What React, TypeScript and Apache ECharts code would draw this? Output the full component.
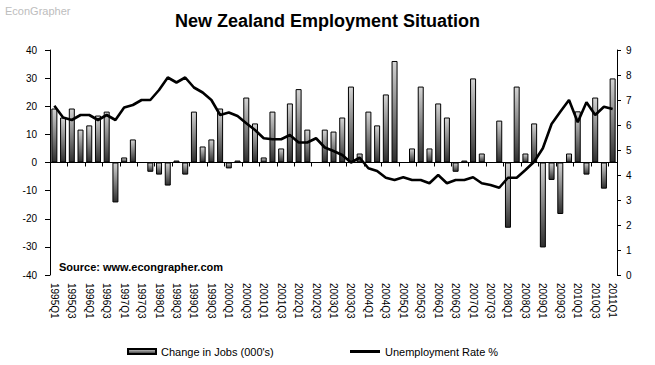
import React, { useEffect, useRef } from "react";
import * as echarts from "echarts";

const quarters = [
  "1995Q1", "1995Q2", "1995Q3", "1995Q4", "1996Q1", "1996Q2", "1996Q3", "1996Q4",
  "1997Q1", "1997Q2", "1997Q3", "1997Q4", "1998Q1", "1998Q2", "1998Q3", "1998Q4",
  "1999Q1", "1999Q2", "1999Q3", "1999Q4", "2000Q1", "2000Q2", "2000Q3", "2000Q4",
  "2001Q1", "2001Q2", "2001Q3", "2001Q4", "2002Q1", "2002Q2", "2002Q3", "2002Q4",
  "2003Q1", "2003Q2", "2003Q3", "2003Q4", "2004Q1", "2004Q2", "2004Q3", "2004Q4",
  "2005Q1", "2005Q2", "2005Q3", "2005Q4", "2006Q1", "2006Q2", "2006Q3", "2006Q4",
  "2007Q1", "2007Q2", "2007Q3", "2007Q4", "2008Q1", "2008Q2", "2008Q3", "2008Q4",
  "2009Q1", "2009Q2", "2009Q3", "2009Q4", "2010Q1", "2010Q2", "2010Q3", "2010Q4",
  "2011Q1",
];

const jobsChange = [
  19.2, 16.0, 19.2, 11.7, 13.2, 16.7, 18.1, -14.2, 1.8, 8.2, 0, -3.3, -4.3, -8.2, 0.7, -4.3,
  18.1, 5.7, 8.2, 19.2, -2.1, 0.7, 23.1, 13.9, 1.8, 18.1, 5.0, 21.0, 26.1, 11.7, 0, 11.7,
  11.0, 16.0, 27.0, 3.2, 18.1, 13.2, 24.2, 36.1, 0, 5.0, 27.0, 5.0, 21.0, 16.0, -3.3, 0.7,
  29.9, 3.2, 0, 14.9, -23.2, 27.0, 3.2, 13.9, -30.2, -6.2, -18.3, 3.2, 18.2, -4.3, 23.1, -9.3, 29.9,
];

const unemploymentRate = [
  6.77, 6.3, 6.2, 6.4, 6.4, 6.2, 6.4, 6.2, 6.7, 6.8, 7.0, 7.0, 7.4, 7.9, 7.7, 7.9,
  7.5, 7.3, 7.0, 6.4, 6.5, 6.36, 6.07, 5.8, 5.47, 5.43, 5.43, 5.6, 5.3, 5.3, 5.47, 5.1,
  4.96, 4.8, 4.5, 4.69, 4.27, 4.16, 3.89, 3.8, 3.91, 3.8, 3.8, 3.67, 4.0, 3.67, 3.8, 3.8,
  3.91, 3.67, 3.6, 3.49, 3.89, 3.89, 4.2, 4.53, 5.07, 6.04, 6.53, 7.0, 6.11, 6.91, 6.4, 6.73, 6.64,
];

const leftAxis = { min: -40, max: 40, interval: 10 };
const rightAxis = { min: 0, max: 9, interval: 1 };

const titleText = "New Zealand Employment Situation";
const jobsName = "Change in Jobs (000's)";
const rateName = "Unemployment Rate %";
const sourceText = "Source: www.econgrapher.com";
const brandText = "EconGrapher";

export default function App() {
  const ref = useRef<HTMLDivElement>(null);
  useEffect(() => {
    if (!ref.current) return;
    const chart = echarts.init(ref.current, null, { renderer: "svg" });
    const font = "'Liberation Sans', Arial, sans-serif";
    const barGradient = new echarts.graphic.LinearGradient(0, 0, 0, 1, [
      { offset: 0, color: "#d4d4d4" },
      { offset: 1, color: "#2e2e2e" },
    ]);
    chart.setOption({
      animation: false,
      backgroundColor: "#ffffff",
      title: {
        text: titleText,
        left: "center",
        top: 7,
        textStyle: { fontFamily: font, fontSize: 18, fontWeight: "bold", color: "#000" },
      },
      graphic: [
        {
          type: "text",
          left: 5,
          top: 5,
          style: { text: brandText, fill: "#bdbdbd", font: `11px ${font}` },
        },
        {
          type: "text",
          left: 59,
          top: 261,
          style: { text: sourceText, fill: "#000", font: `bold 11px ${font}` },
        },
      ],
      legend: [
        {
          data: [jobsName],
          left: 122,
          top: 341,
          icon: "rect",
          itemWidth: 28,
          itemHeight: 5,
          textStyle: { fontFamily: font, fontSize: 11, color: "#000" },
        },
        {
          data: [{ name: rateName, icon: "rect", itemStyle: { color: "#000", borderWidth: 0 } }],
          left: 345,
          top: 341,
          itemWidth: 30,
          itemHeight: 3,
          textStyle: { fontFamily: font, fontSize: 11, color: "#000" },
        },
      ],
      grid: { left: 50, right: 38, top: 50, bottom: 90 },
      xAxis: [
        {
          type: "category",
          data: quarters,
          position: "bottom",
          axisLine: { show: false, onZero: false },
          axisTick: { show: false },
          axisLabel: {
            interval: 1,
            rotate: -90,
            margin: 8,
            fontFamily: font,
            fontSize: 10,
            color: "#000",
          },
        },
        {
          type: "category",
          data: quarters,
          position: "bottom",
          axisLine: { show: true, onZero: true, onZeroAxisIndex: 0, lineStyle: { color: "#000", width: 1 } },
          axisTick: { show: true, interval: 1, length: 4, lineStyle: { color: "#000" } },
          axisLabel: { show: false },
        },
      ],
      yAxis: [
        {
          type: "value",
          position: "left",
          min: leftAxis.min,
          max: leftAxis.max,
          interval: leftAxis.interval,
          axisLine: { show: true, onZero: false, lineStyle: { color: "#000" } },
          axisTick: { show: true, length: 5, lineStyle: { color: "#000" } },
          splitLine: { show: false },
          axisLabel: { margin: 13, fontFamily: font, fontSize: 10, color: "#000" },
        },
        {
          type: "value",
          position: "right",
          min: rightAxis.min,
          max: rightAxis.max,
          interval: rightAxis.interval,
          axisLine: { show: true, onZero: false, lineStyle: { color: "#000" } },
          axisTick: { show: true, length: 4, lineStyle: { color: "#000" } },
          splitLine: { show: false },
          axisLabel: { margin: 9, fontFamily: font, fontSize: 10, color: "#000" },
        },
      ],
      series: [
        {
          name: jobsName,
          type: "bar",
          data: jobsChange,
          xAxisIndex: 0,
          yAxisIndex: 0,
          barWidth: 6,
          itemStyle: { color: barGradient, borderColor: "#000", borderWidth: 1 },
        },
        {
          name: rateName,
          type: "line",
          data: unemploymentRate,
          xAxisIndex: 0,
          yAxisIndex: 1,
          symbol: "none",
          lineStyle: { color: "#000", width: 2.6 },
          itemStyle: { color: "#000" },
          z: 5,
        },
      ],
    });
    return () => chart.dispose();
  }, []);
  return <div ref={ref} style={{ position: "fixed", left: 0, top: 0, width: 655, height: 365 }} />;
}
